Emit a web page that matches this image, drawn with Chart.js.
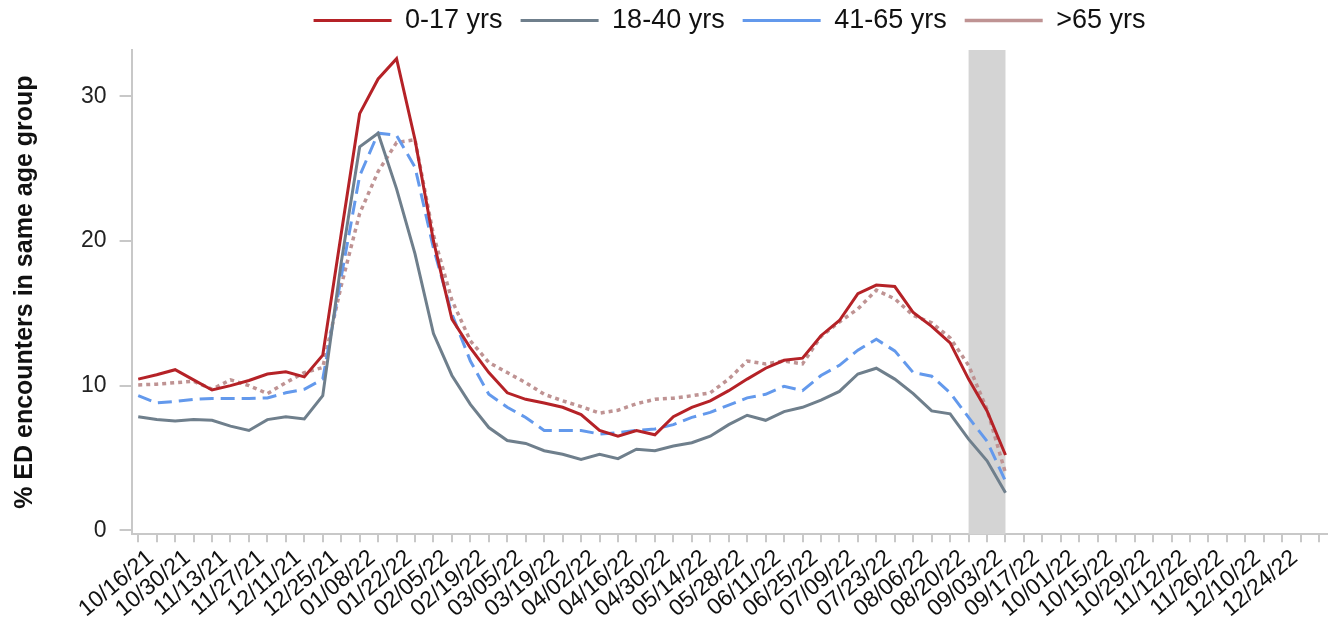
<!DOCTYPE html>
<html>
<head>
<meta charset="utf-8">
<script src="https://cdn.jsdelivr.net/npm/chart.js@4/dist/chart.umd.min.js"></script>
<style>
  html, body { margin: 0; padding: 0; background: #ffffff; }
  #wrap { width: 1339px; height: 622px; }
</style>
</head>
<body>
<div id="wrap"><canvas id="chart" width="1339" height="622"></canvas></div>
<script>
// weekly x axis, 10/09/21 .. 12/31/22 (only every other week is labelled)
const weeks = [
  "10/09/21", "10/16/21", "10/23/21", "10/30/21", "11/06/21", "11/13/21", "11/20/21", "11/27/21",
  "12/04/21", "12/11/21", "12/18/21", "12/25/21", "01/01/22", "01/08/22", "01/15/22", "01/22/22",
  "01/29/22", "02/05/22", "02/12/22", "02/19/22", "02/26/22", "03/05/22", "03/12/22", "03/19/22",
  "03/26/22", "04/02/22", "04/09/22", "04/16/22", "04/23/22", "04/30/22", "05/07/22", "05/14/22",
  "05/21/22", "05/28/22", "06/04/22", "06/11/22", "06/18/22", "06/25/22", "07/02/22", "07/09/22",
  "07/16/22", "07/23/22", "07/30/22", "08/06/22", "08/13/22", "08/20/22", "08/27/22", "09/03/22",
  "09/10/22", "09/17/22", "09/24/22", "10/01/22", "10/08/22", "10/15/22", "10/22/22", "10/29/22",
  "11/05/22", "11/12/22", "11/19/22", "11/26/22", "12/03/22", "12/10/22", "12/17/22", "12/24/22",
  "12/31/22",
];

const seriesNames = ["0-17 yrs", "18-40 yrs", "41-65 yrs", ">65 yrs"];

// % of ED encounters, one value per week from 10/09/21
const age0to17 = [
  10.45, 10.75, 11.1, 10.4, 9.7, 10.0, 10.35, 10.8, 10.95, 10.6, 12.1, 20.5,
  28.8, 31.2, 32.6, 27.0, 20.0, 14.6, 12.6, 10.9, 9.5, 9.05, 8.8, 8.5,
  8.0, 6.9, 6.5, 6.9, 6.6, 7.85, 8.5, 8.95, 9.65, 10.45, 11.2, 11.75,
  11.9, 13.45, 14.5, 16.35, 16.95, 16.85, 15.05, 14.1, 12.95, 10.45, 8.25, 5.2,
];
const age18to40 = [
  7.85, 7.65, 7.55, 7.65, 7.6, 7.2, 6.9, 7.65, 7.85, 7.7, 9.3, 18.5,
  26.5, 27.45, 23.6, 19.1, 13.6, 10.7, 8.7, 7.1, 6.2, 6.0, 5.5, 5.25,
  4.9, 5.25, 4.95, 5.6, 5.5, 5.82, 6.05, 6.5, 7.3, 7.95, 7.6, 8.2,
  8.5, 9.0, 9.6, 10.8, 11.2, 10.45, 9.45, 8.25, 8.05, 6.3, 4.8, 2.6,
];
const age41to65 = [
  9.3, 8.8, 8.9, 9.05, 9.1, 9.1, 9.1, 9.15, 9.5, 9.75, 10.45, 17.5,
  24.5, 27.45, 27.3, 25.1, 19.5, 14.95, 11.7, 9.4, 8.5, 7.8, 6.9, 6.9,
  6.9, 6.65, 6.75, 6.9, 7.0, 7.3, 7.8, 8.15, 8.65, 9.15, 9.4, 9.95,
  9.65, 10.7, 11.4, 12.45, 13.2, 12.4, 10.9, 10.65, 9.5, 7.8, 6.15, 3.4,
];
const age65plus = [
  10.05, 10.1, 10.2, 10.3, 9.75, 10.4, 10.0, 9.45, 10.2, 10.9, 11.25, 16.9,
  21.9, 24.8, 26.8, 27.0, 20.4, 15.9, 13.1, 11.6, 10.9, 10.2, 9.4, 8.95,
  8.55, 8.1, 8.3, 8.75, 9.05, 9.13, 9.3, 9.5, 10.45, 11.7, 11.5, 11.7,
  11.5, 13.4, 14.4, 15.3, 16.6, 16.0, 14.85, 14.35, 13.3, 11.4, 8.35, 3.95,
];

// incomplete-data weeks, grey band
const shadeFrom = "08/20/22";
const shadeTo = "09/03/22";

const yTicks = [0, 10, 20, 30];

const FONT = "'Liberation Sans', Arial, sans-serif";

function toPoints(values) {
  return values.map((v, i) => ({ x: i, y: v }));
}

const shadePlugin = {
  id: "shade",
  beforeDatasetsDraw(chart) {
    const { ctx, chartArea, scales } = chart;
    const x0 = scales.x.getPixelForValue(weeks.indexOf(shadeFrom));
    const x1 = scales.x.getPixelForValue(weeks.indexOf(shadeTo));
    ctx.save();
    ctx.fillStyle = "#d4d4d4";
    ctx.fillRect(x0, chartArea.top, x1 - x0, chartArea.bottom - chartArea.top);
    ctx.restore();
  },
};

// push the plot down a bit below the legend row
const legendSpace = {
  id: "legendSpace",
  beforeInit(chart) {
    const origFit = chart.legend.fit;
    chart.legend.fit = function fit() {
      origFit.bind(chart.legend)();
      this.height = 61;
    };
  },
};

const canvas = document.getElementById("chart");
const ctx = canvas.getContext("2d");

const lineBase = {
  borderWidth: 3,
  pointRadius: 0,
  pointHoverRadius: 0,
  tension: 0,
  fill: false,
};

canvas.chart = new Chart(ctx, {
  type: "line",
  data: {
    datasets: [
      { ...lineBase, label: seriesNames[0], data: toPoints(age0to17), borderColor: "#b52227", backgroundColor: "#b52227" },
      { ...lineBase, label: seriesNames[1], data: toPoints(age18to40), borderColor: "#6f7f8c", backgroundColor: "#6f7f8c" },
      { ...lineBase, label: seriesNames[2], data: toPoints(age41to65), borderColor: "#6399ec", backgroundColor: "#6399ec", borderDash: [14, 7] },
      { ...lineBase, label: seriesNames[3], data: toPoints(age65plus), borderColor: "#bf9393", backgroundColor: "#bf9393", borderDash: [4, 4], borderWidth: 3.5 },
    ],
  },
  options: {
    responsive: false,
    animation: false,
    layout: {
      padding: { left: 8, right: 9, top: -11, bottom: -3 },
    },
    plugins: {
      legend: {
        position: "top",
        fullSize: false,
        labels: {
          usePointStyle: true,
          pointStyle: "line",
          pointStyleWidth: 78,
          padding: 18,
          color: "#111",
          font: { family: FONT, size: 27 },
        },
      },
      tooltip: { enabled: false },
    },
    scales: {
      x: {
        type: "linear",
        min: -0.36,
        max: 64.45,
        afterBuildTicks: (scale) => {
          scale.ticks = weeks.map((w, i) => ({ value: i }));
        },
        ticks: {
          autoSkip: false,
          minRotation: 40,
          maxRotation: 40,
          padding: 2,
          labelOffset: -6,
          color: "#111",
          font: { family: FONT, size: 23 },
          callback: (value) => (value % 2 === 1 ? weeks[value] : ""),
        },
        grid: {
          drawOnChartArea: false,
          drawTicks: true,
          tickLength: 8,
          color: "#c8c8c8",
          lineWidth: 2,
        },
        border: { display: true, color: "#c8c8c8", width: 2 },
      },
      y: {
        min: -0.28,
        max: 33.2,
        afterBuildTicks: (scale) => {
          scale.ticks = yTicks.map((v) => ({ value: v }));
        },
        ticks: {
          padding: 13,
          color: "#222",
          font: { family: FONT, size: 23 },
        },
        grid: {
          drawOnChartArea: false,
          drawTicks: true,
          tickLength: 12,
          color: "#c8c8c8",
          lineWidth: 2,
        },
        border: { display: true, color: "#c8c8c8", width: 2 },
        title: {
          display: true,
          text: "% ED encounters in same age group",
          color: "#111",
          font: { family: FONT, size: 25, weight: "bold" },
          padding: { top: 2, bottom: 28 },
        },
      },
    },
  },
  plugins: [shadePlugin, legendSpace],
});
</script>
</body>
</html>
